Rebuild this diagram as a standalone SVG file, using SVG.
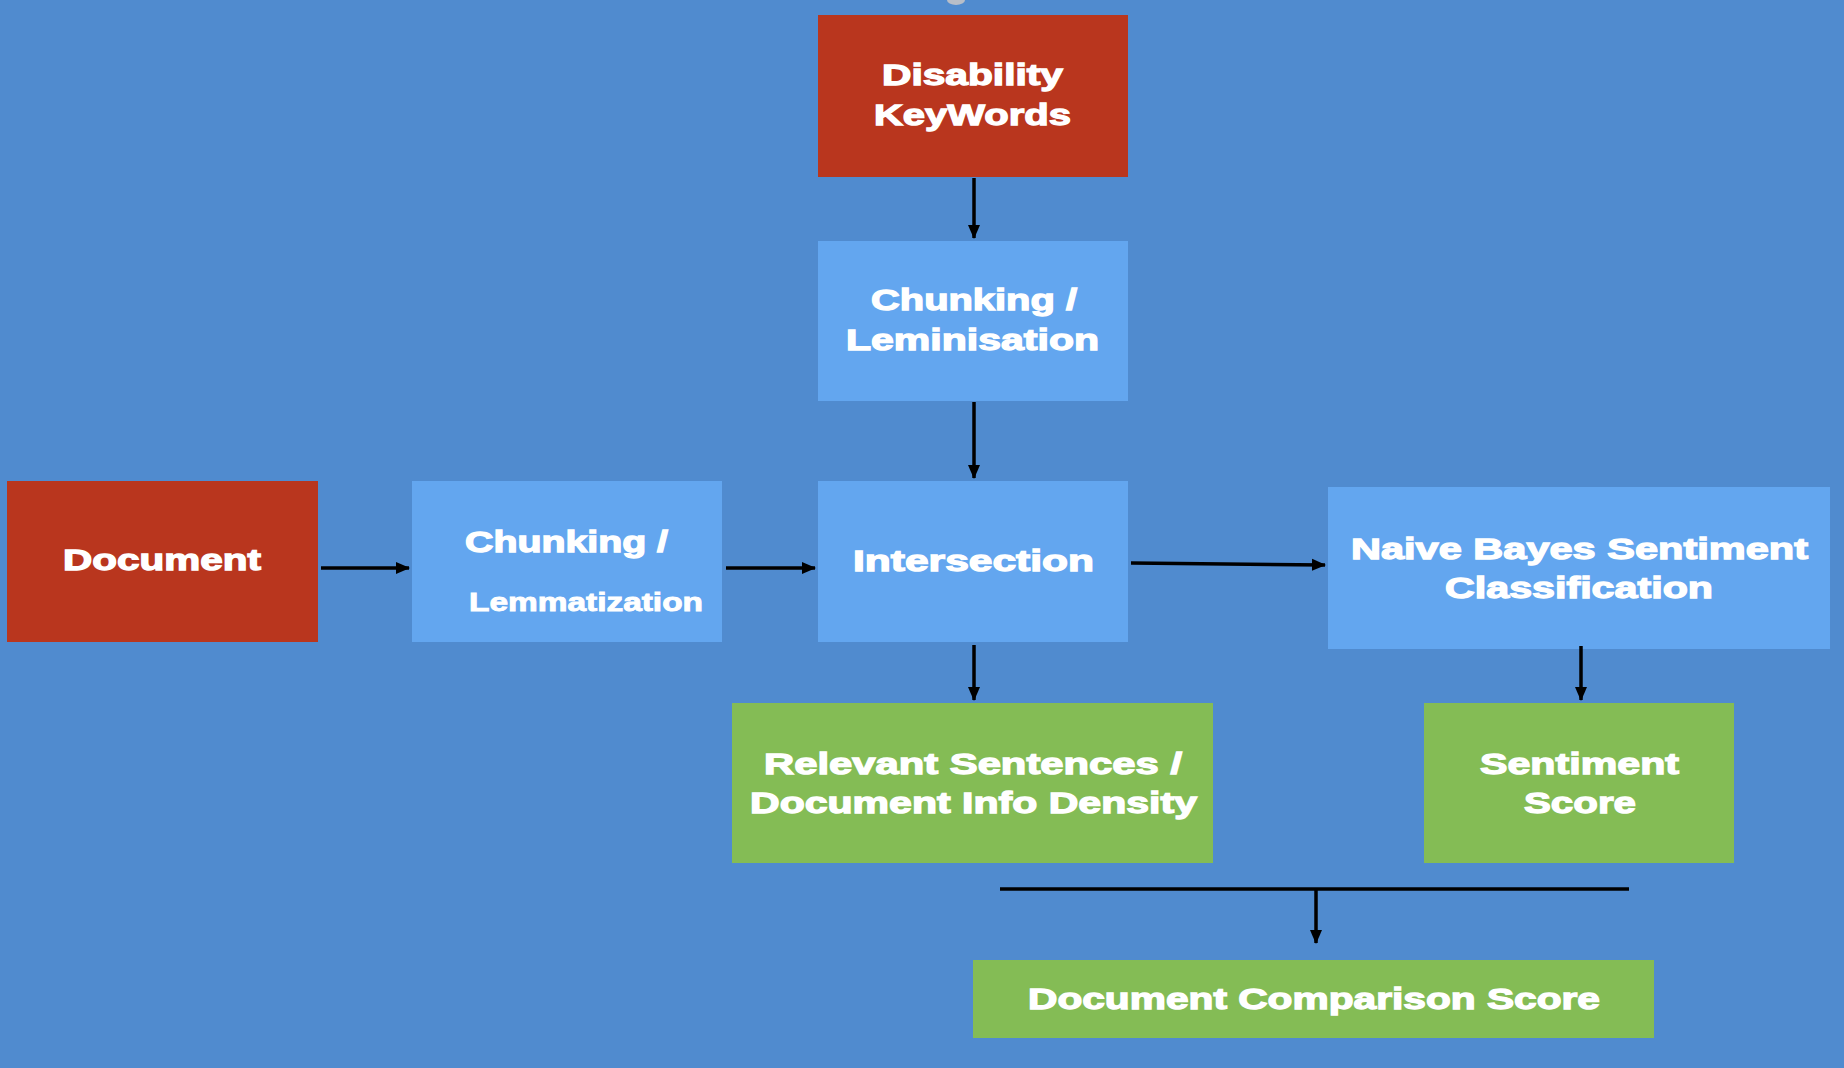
<svg xmlns="http://www.w3.org/2000/svg" width="1844" height="1068" viewBox="0 0 1844 1068">
  <defs>
    <marker id="head" markerUnits="userSpaceOnUse" markerWidth="14" markerHeight="14" viewBox="0 0 14 14" refX="13" refY="7" orient="auto">
      <path d="M0,1 L14,7 L0,13 Z" fill="#000"/>
    </marker>
    <style>
      .red { fill: #B9361E; }
      .blue { fill: #63A6EF; }
      .green { fill: #84BC55; }
      .lbl { font-family: "Liberation Sans", Arial, sans-serif; font-weight: bold; font-size: 30px; fill: #fff; stroke: #fff; stroke-width: 1.3; }
      .small { font-size: 26px; stroke-width: 0.9; }
      .edge { stroke: #000; stroke-width: 3.5; fill: none; }
      .arrow { marker-end: url(#head); }
    </style>
  </defs>

  <!-- backdrop -->
  <rect x="0" y="0" width="1844" height="1068" fill="#508BCF"/>
  <ellipse cx="956" cy="0" rx="9" ry="5" fill="#B8BEC8"/>

  <g id="disability-keywords">
    <rect class="red" x="818" y="15" width="310" height="162"/>
    <text class="lbl" x="882" y="85" textLength="181" lengthAdjust="spacingAndGlyphs">Disability</text>
    <text class="lbl" x="874" y="125" textLength="197" lengthAdjust="spacingAndGlyphs">KeyWords</text>
  </g>

  <g id="chunking-leminisation">
    <rect class="blue" x="818" y="241" width="310" height="160"/>
    <text class="lbl" x="871" y="310" textLength="206" lengthAdjust="spacingAndGlyphs">Chunking /</text>
    <text class="lbl" x="846" y="350" textLength="253" lengthAdjust="spacingAndGlyphs">Leminisation</text>
  </g>

  <g id="document">
    <rect class="red" x="7" y="481" width="311" height="161"/>
    <text class="lbl" x="63" y="570" textLength="198" lengthAdjust="spacingAndGlyphs">Document</text>
  </g>

  <g id="chunking-lemmatization">
    <rect class="blue" x="412" y="481" width="310" height="161"/>
    <text class="lbl" x="465" y="552" textLength="203" lengthAdjust="spacingAndGlyphs">Chunking /</text>
    <text class="lbl small" x="469" y="611" textLength="234" lengthAdjust="spacingAndGlyphs">Lemmatization</text>
  </g>

  <g id="intersection">
    <rect class="blue" x="818" y="481" width="310" height="161"/>
    <text class="lbl" x="853" y="571" textLength="241" lengthAdjust="spacingAndGlyphs">Intersection</text>
  </g>

  <g id="naive-bayes">
    <rect class="blue" x="1328" y="487" width="502" height="162"/>
    <text class="lbl" x="1351" y="559" textLength="457" lengthAdjust="spacingAndGlyphs">Naive Bayes Sentiment</text>
    <text class="lbl" x="1445" y="598" textLength="268" lengthAdjust="spacingAndGlyphs">Classification</text>
  </g>

  <g id="relevant-sentences">
    <rect class="green" x="732" y="703" width="481" height="160"/>
    <text class="lbl" x="764" y="774" textLength="418" lengthAdjust="spacingAndGlyphs">Relevant Sentences /</text>
    <text class="lbl" x="750" y="813" textLength="447" lengthAdjust="spacingAndGlyphs">Document Info Density</text>
  </g>

  <g id="sentiment-score">
    <rect class="green" x="1424" y="703" width="310" height="160"/>
    <text class="lbl" x="1480" y="774" textLength="199" lengthAdjust="spacingAndGlyphs">Sentiment</text>
    <text class="lbl" x="1524" y="813" textLength="112" lengthAdjust="spacingAndGlyphs">Score</text>
  </g>

  <g id="document-comparison-score">
    <rect class="green" x="973" y="960" width="681" height="78"/>
    <text class="lbl" x="1028" y="1009" textLength="572" lengthAdjust="spacingAndGlyphs">Document Comparison Score</text>
  </g>

  <g id="connectors">
    <line class="edge arrow" x1="974" y1="178" x2="974" y2="238"/>
    <line class="edge arrow" x1="974" y1="402" x2="974" y2="478"/>
    <line class="edge arrow" x1="321" y1="568" x2="409" y2="568"/>
    <line class="edge arrow" x1="726" y1="568" x2="815" y2="568"/>
    <line class="edge arrow" x1="1131" y1="563" x2="1325" y2="565"/>
    <line class="edge arrow" x1="974" y1="645" x2="974" y2="700"/>
    <line class="edge arrow" x1="1581" y1="646" x2="1581" y2="700"/>
    <line class="edge" x1="1000" y1="889" x2="1629" y2="889" stroke-width="4.5"/>
    <line class="edge arrow" x1="1316" y1="889" x2="1316" y2="943"/>
  </g>
</svg>
